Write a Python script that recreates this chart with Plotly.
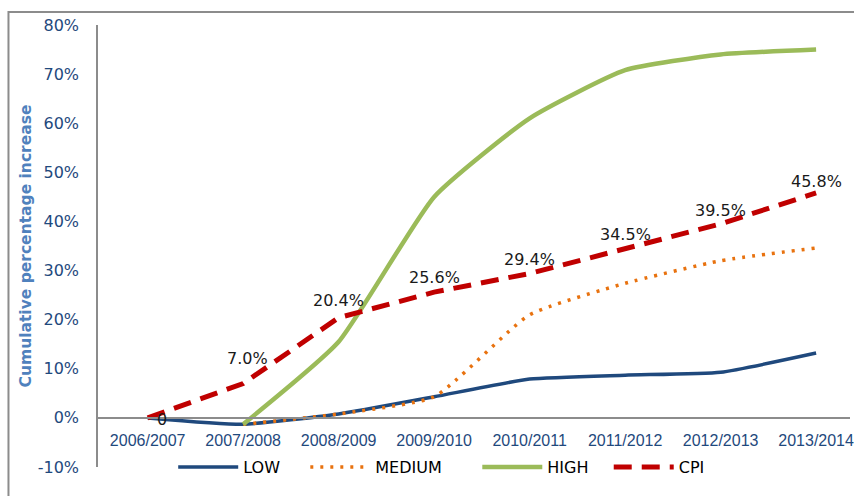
import plotly.graph_objects as go

years = ["2006/2007", "2007/2008", "2008/2009", "2009/2010", "2010/2011",
         "2011/2012", "2012/2013", "2013/2014"]
low = [0.0, -1.3, 0.8, 4.3, 7.9, 8.7, 9.3, 13.2]
medium = [None, -1.3, 0.8, 4.3, 21.0, 27.4, 32.0, 34.6]
high = [None, -1.3, 15.5, 45.0, 61.0, 70.8, 74.0, 75.0]
cpi = [0.0, 7.0, 20.4, 25.6, 29.4, 34.5, 39.5, 45.8]
cpi_labels = ["0", "7.0%", "20.4%", "25.6%", "29.4%", "34.5%", "39.5%", "45.8%"]
y_ticks = [-10, 0, 10, 20, 30, 40, 50, 60, 70, 80]
y_tick_labels = [f"{v}%" for v in y_ticks]
names = ["LOW", "MEDIUM", "HIGH", "CPI"]

# label offsets (pixels) for the CPI data labels
label_dx = [7, 4, 0, 0, 0, 0, 0, 0]
label_dy = [-2, 25, 17, 15, 14, 14, 13, 11]
pad = ["\u00a0" * 4, "\u00a0" * 6, "\u00a0" * 3, ""]

W, H = 854, 496
ML, MR, MT, MB = 98, 0, 25, 29

fig = go.Figure()
fig.add_trace(go.Scatter(x=years, y=low, name=names[0] + pad[0], mode="lines",
                         line=dict(color="#1F497D", width=3.5, shape="spline", smoothing=0.5)))
fig.add_trace(go.Scatter(x=years, y=medium, name=names[1] + pad[1], mode="lines",
                         line=dict(color="#E8720F", width=3.5, dash="3px,7px", shape="spline", smoothing=0.5)))
fig.add_trace(go.Scatter(x=years, y=high, name=names[2] + pad[2], mode="lines",
                         line=dict(color="#9BBB59", width=4.5, shape="spline", smoothing=0.5)))
fig.add_trace(go.Scatter(x=years, y=cpi, name=names[3] + pad[3], mode="lines",
                         line=dict(color="#C00000", width=5, dash="18px,10px")))

annotations = []
for i, (yr, v, t) in enumerate(zip(years, cpi, cpi_labels)):
    annotations.append(dict(x=yr, y=v, text=t, showarrow=False,
                            xanchor="left" if i == 0 else "center",
                            yanchor="middle",
                            xshift=label_dx[i], yshift=label_dy[i],
                            font=dict(family="DejaVu Sans", size=16, color="#1a1a1a")))

y_range = [-10, 80]
zero_frac = (0 - y_range[0]) / (y_range[1] - y_range[0])
px_per_cat = 96
plot_w = W - ML - MR
x_lo = -0.52
x_hi = x_lo + plot_w / px_per_cat

fig.update_layout(
    width=W, height=H,
    margin=dict(l=ML, r=MR, t=MT, b=MB),
    paper_bgcolor="white", plot_bgcolor="white",
    hovermode=False,
    showlegend=True,
    annotations=annotations,
    legend=dict(orientation="h", x=0.1, y=0.0, xanchor="left", yanchor="middle",
                font=dict(family="DejaVu Sans", size=16, color="#000000"),
                bgcolor="rgba(0,0,0,0)", itemwidth=60),
    xaxis=dict(range=[x_lo, x_hi], anchor="free", position=zero_frac,
               showline=True, linecolor="#8C8C8C", linewidth=1.5,
               showgrid=False, zeroline=False,
               ticks="outside", ticklen=8, tickcolor="rgba(0,0,0,0)",
               tickfont=dict(family="Liberation Sans", size=16, color="#1F497D")),
    yaxis=dict(range=y_range, tickvals=y_ticks, ticktext=y_tick_labels,
               showline=True, linecolor="#8C8C8C", linewidth=1.5,
               showgrid=False, zeroline=False,
               ticks="outside", ticklen=14, tickcolor="rgba(0,0,0,0)",
               tickfont=dict(family="DejaVu Sans", size=16, color="#1F497D"),
               title=dict(text="<b>Cumulative percentage increase</b>",
                          font=dict(family="DejaVu Sans", size=15.5, color="#4F81BD"),
                          standoff=2)),
    shapes=[dict(type="rect", xref="paper", yref="paper",
                 x0=(8 - ML) / plot_w, x1=1.2,
                 y0=-0.3, y1=(H - MB - 12) / (H - MT - MB),
                 line=dict(color="#8C8C8C", width=2), fillcolor="rgba(0,0,0,0)")],
)

fig.write_html("out.html")
